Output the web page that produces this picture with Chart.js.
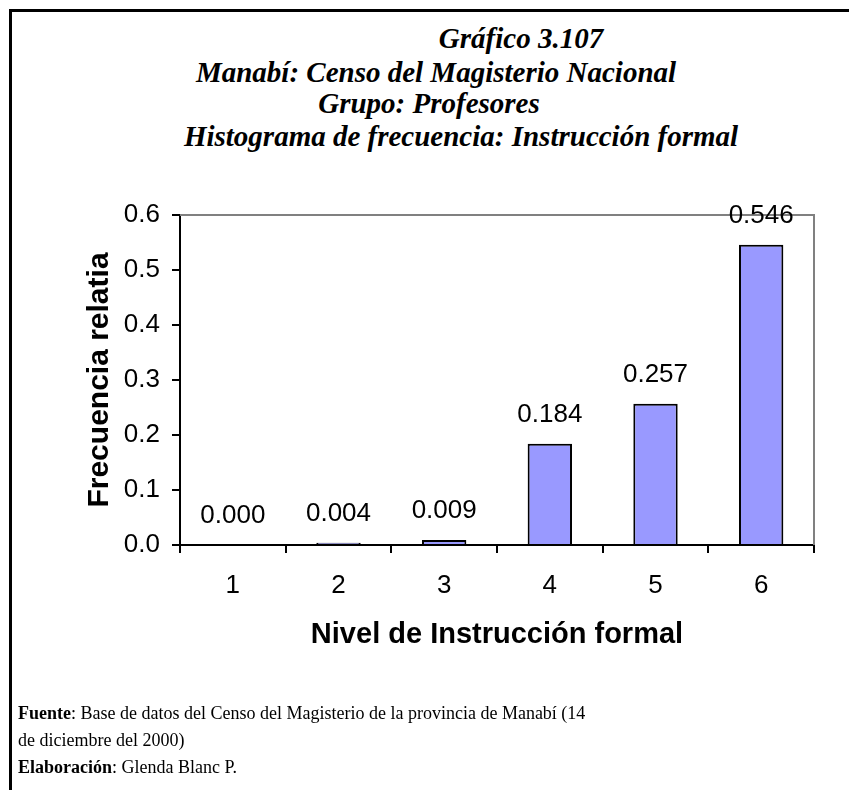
<!DOCTYPE html>
<html>
<head>
<meta charset="utf-8">
<script src="https://cdn.jsdelivr.net/npm/chart.js@4.4.1/dist/chart.umd.min.js"></script>
<style>
  body { margin: 0; background: #fff; }
  #page { position: relative; width: 849px; height: 790px; overflow: hidden; }
  #frame { position: absolute; left: 9px; top: 9px; right: 0; bottom: 0;
           border-left: 3px solid #000; border-top: 3px solid #000; }
  #chart { position: absolute; left: 0; top: 0; }
  .head { position: absolute; white-space: nowrap; transform: translateX(-50%);
          font-family: "Liberation Serif", "Times New Roman", serif;
          font-weight: bold; font-style: italic; font-size: 29px; line-height: 30px; }
  #foot { position: absolute; left: 18px; top: 700px;
          font-family: "Liberation Serif", "Times New Roman", serif;
          font-size: 18px; line-height: 27px; }
</style>
</head>
<body>
<div id="page">
  <div class="head" style="left:521px; top:23px;">Gráfico 3.107</div>
  <div class="head" style="left:436px; top:57px;">Manabí: Censo del Magisterio Nacional</div>
  <div class="head" style="left:429px; top:88px;">Grupo: Profesores</div>
  <div class="head" style="left:461px; top:121px;">Histograma de frecuencia: Instrucción formal</div>
  <div id="frame"></div>
  <canvas id="chart" width="849" height="790"></canvas>
  <div id="foot">
    <div><b>Fuente</b>: Base de datos del Censo del Magisterio de la provincia de Manabí (14</div>
    <div>de diciembre del 2000)</div>
    <div><b>Elaboración</b>: Glenda Blanc P.</div>
  </div>
</div>
<script>
// chart data
const levels = ['1', '2', '3', '4', '5', '6'];
const relFreq = [0.000, 0.004, 0.009, 0.184, 0.257, 0.546];
const yTicks = [0, 0.1, 0.2, 0.3, 0.4, 0.5, 0.6];

const sans = '"Liberation Sans", Arial, sans-serif';
const axisFont = { family: sans, size: 26 };

// gray frame on top and right of the plot area
const plotFrame = {
    id: 'plotFrame',
    beforeDatasetsDraw(chart) {
        const { ctx, chartArea } = chart;
        ctx.save();
        ctx.strokeStyle = '#808080';
        ctx.lineWidth = 2;
        ctx.beginPath();
        ctx.moveTo(chartArea.left, chartArea.top);
        ctx.lineTo(chartArea.right, chartArea.top);
        ctx.lineTo(chartArea.right, chartArea.bottom);
        ctx.stroke();
        ctx.restore();
    }
};

// value labels above bars
const barLabels = {
    id: 'barLabels',
    afterDatasetsDraw(chart) {
        const { ctx } = chart;
        const meta = chart.getDatasetMeta(0);
        ctx.save();
        ctx.font = '26px ' + sans;
        ctx.fillStyle = '#000';
        ctx.textAlign = 'center';
        ctx.textBaseline = 'middle';
        meta.data.forEach((bar, i) => {
            ctx.fillText(relFreq[i].toFixed(3), bar.x, bar.y - 29);
        });
        ctx.restore();
    }
};

new Chart(document.getElementById('chart'), {
    type: 'bar',
    data: {
        labels: levels,
        datasets: [{
            data: relFreq,
            backgroundColor: '#9999FF',
            borderColor: '#000',
            borderWidth: 2,
            barPercentage: 0.42,
            categoryPercentage: 1
        }]
    },
    options: {
        responsive: false,
        animation: false,
        devicePixelRatio: 1,
        layout: { padding: { top: 215, right: 35, left: 80, bottom: 136 } },
        plugins: {
            legend: { display: false },
            tooltip: { enabled: false }
        },
        scales: {
            x: {
                afterFit: function(scale) { scale.height = 109; },
                border: { color: '#000', width: 2 },
                grid: { drawOnChartArea: false, drawTicks: true, tickLength: 8, color: '#000', lineWidth: 2 },
                ticks: { color: '#000', font: axisFont, padding: 17 },
                title: {
                    display: true,
                    text: 'Nivel de Instrucción formal',
                    color: '#000',
                    font: { family: sans, size: 29, weight: 'bold' },
                    padding: 2
                }
            },
            y: {
                min: 0,
                max: 0.6,
                afterFit: function(scale) { scale.width = 100; },
                afterBuildTicks: function(scale) {
                    scale.ticks = yTicks.map(v => ({ value: v }));
                },
                border: { color: '#000', width: 2 },
                grid: { drawOnChartArea: false, drawTicks: true, tickLength: 8, color: '#000', lineWidth: 2 },
                ticks: {
                    color: '#000',
                    font: axisFont,
                    padding: 12,
                    callback: v => v.toFixed(1)
                },
                title: {
                    display: true,
                    text: 'Frecuencia relatia',
                    color: '#000',
                    font: { family: sans, size: 30, weight: 'bold' },
                    padding: 2
                }
            }
        }
    },
    plugins: [plotFrame, barLabels]
});
</script>
</body>
</html>
